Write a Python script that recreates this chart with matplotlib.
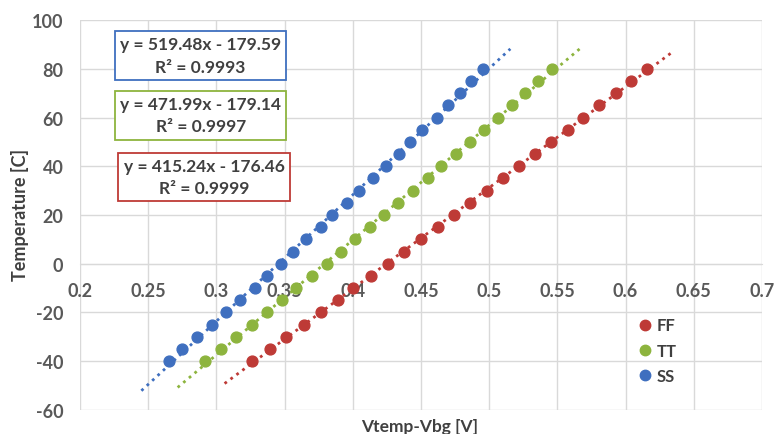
import numpy as np
import matplotlib
matplotlib.use("Agg")
import matplotlib.pyplot as plt
from matplotlib.lines import Line2D

plt.rcParams['font.family'] = ['Lato', 'DejaVu Sans']
plt.rcParams['axes.unicode_minus'] = False

# Temperature sweep, -40..80 C
temps = [-40, -35, -30, -25, -20, -15, -10, -5, 0, 5, 10, 15, 20,
         25, 30, 35, 40, 45, 50, 55, 60, 65, 70, 75, 80]

# Vtemp-Vbg, per corner
x_ff = [0.326, 0.339, 0.351, 0.364, 0.377, 0.389, 0.400, 0.413, 0.4256, 0.4375,
        0.4498, 0.4627, 0.4742, 0.4859, 0.4982, 0.5099, 0.5221, 0.5336, 0.5453,
        0.5575, 0.569, 0.5807, 0.5927, 0.6037, 0.6154]
x_tt = [0.2916, 0.3031, 0.3144, 0.3259, 0.3369, 0.3479, 0.3584, 0.3699, 0.3809,
        0.3911, 0.4016, 0.4126, 0.4229, 0.4334, 0.4439, 0.4549, 0.4649, 0.4757,
        0.4859, 0.4962, 0.5062, 0.5165, 0.526, 0.5358, 0.5463]
x_ss = [0.265, 0.275, 0.286, 0.2965, 0.307, 0.317, 0.328, 0.337, 0.347, 0.356,
        0.366, 0.377, 0.385, 0.3955, 0.4045, 0.415, 0.424, 0.434, 0.442, 0.451,
        0.4615, 0.470, 0.4786, 0.487, 0.4955]

names = ['FF', 'TT', 'SS']
colors = ['#BE3A36', '#8DB43E', '#3F6FBF']
eq_text = ['y = 415.24x - 176.46\nR² = 0.9999',
           'y = 471.99x - 179.14\nR² = 0.9997',
           'y = 519.48x - 179.59\nR² = 0.9993']

txt_col = '#404040'
grid_col = '#D9D9D9'

fig = plt.figure(figsize=(7.75, 4.35), dpi=100)
ax = fig.add_axes([80 / 775, 1 - 410.7 / 435, 682 / 775, 389.4 / 435])

for xs, c in zip([x_ff, x_tt, x_ss], colors):
    xs = np.array(xs)
    k, b = np.polyfit(xs, temps, 1)
    xt = np.linspace(xs.min() - 0.02, xs.max() + 0.02, 50)
    ax.plot(xt, k * xt + b, ':', color=c, lw=2, zorder=2)
    ax.plot(xs, temps, 'o', color=c, ms=7.8, zorder=3)

ax.set_xlim(0.2, 0.7)
ax.set_ylim(-60, 100)
ax.set_xticks(np.arange(0.2, 0.701, 0.05))
ax.set_yticks(np.arange(-60, 101, 20))
ax.set_xticklabels(['0.2', '0.25', '0.3', '0.35', '0.4', '0.45', '0.5',
                    '0.55', '0.6', '0.65', '0.7'])
ax.grid(True, color=grid_col, lw=1)
ax.set_axisbelow(True)
for s in ['top', 'right', 'left']:
    ax.spines[s].set_visible(False)
ax.spines['bottom'].set_position(('data', 0))
ax.spines['bottom'].set_color(grid_col)
ax.tick_params(axis='both', length=0, labelsize=13, labelcolor='#595959')
ax.tick_params(axis='x', pad=13)
ax.tick_params(axis='y', pad=12)
for lab in ax.get_xticklabels() + ax.get_yticklabels():
    lab.set_fontweight('bold')

fig.text(20 / 775, 1 - 215 / 435, 'Temperature [C]', rotation=90, ha='center',
         va='center', fontsize=13, fontweight='bold', color=txt_col)
fig.text(420 / 775, 1 - 427 / 435, 'Vtemp-Vbg [V]', ha='center', va='center',
         fontsize=12.5, fontweight='bold', color=txt_col)

# equation boxes
box_pos = [(0.2909, 35.6), (0.2885, 61.0), (0.2883, 85.5)]
for (bx, by), t, c in zip(box_pos, eq_text, colors):
    ax.text(bx, by, t, ha='center', va='center', multialignment='center',
            fontsize=12.5, fontweight='bold', color=txt_col, linespacing=1.5,
            bbox=dict(boxstyle='square,pad=0.3', fc='white', ec=c, lw=1.3),
            zorder=5)

handles = [Line2D([], [], ls='', marker='o', color=c, ms=7.5) for c in colors]
ax.legend(handles, names, loc='center', bbox_to_anchor=(0.845, 0.152),
          frameon=False, handletextpad=0.2, labelspacing=0.55,
          handlelength=1.0, prop={'weight': 'bold', 'size': 12},
          labelcolor=txt_col)

fig.savefig('out.png', dpi=100)
